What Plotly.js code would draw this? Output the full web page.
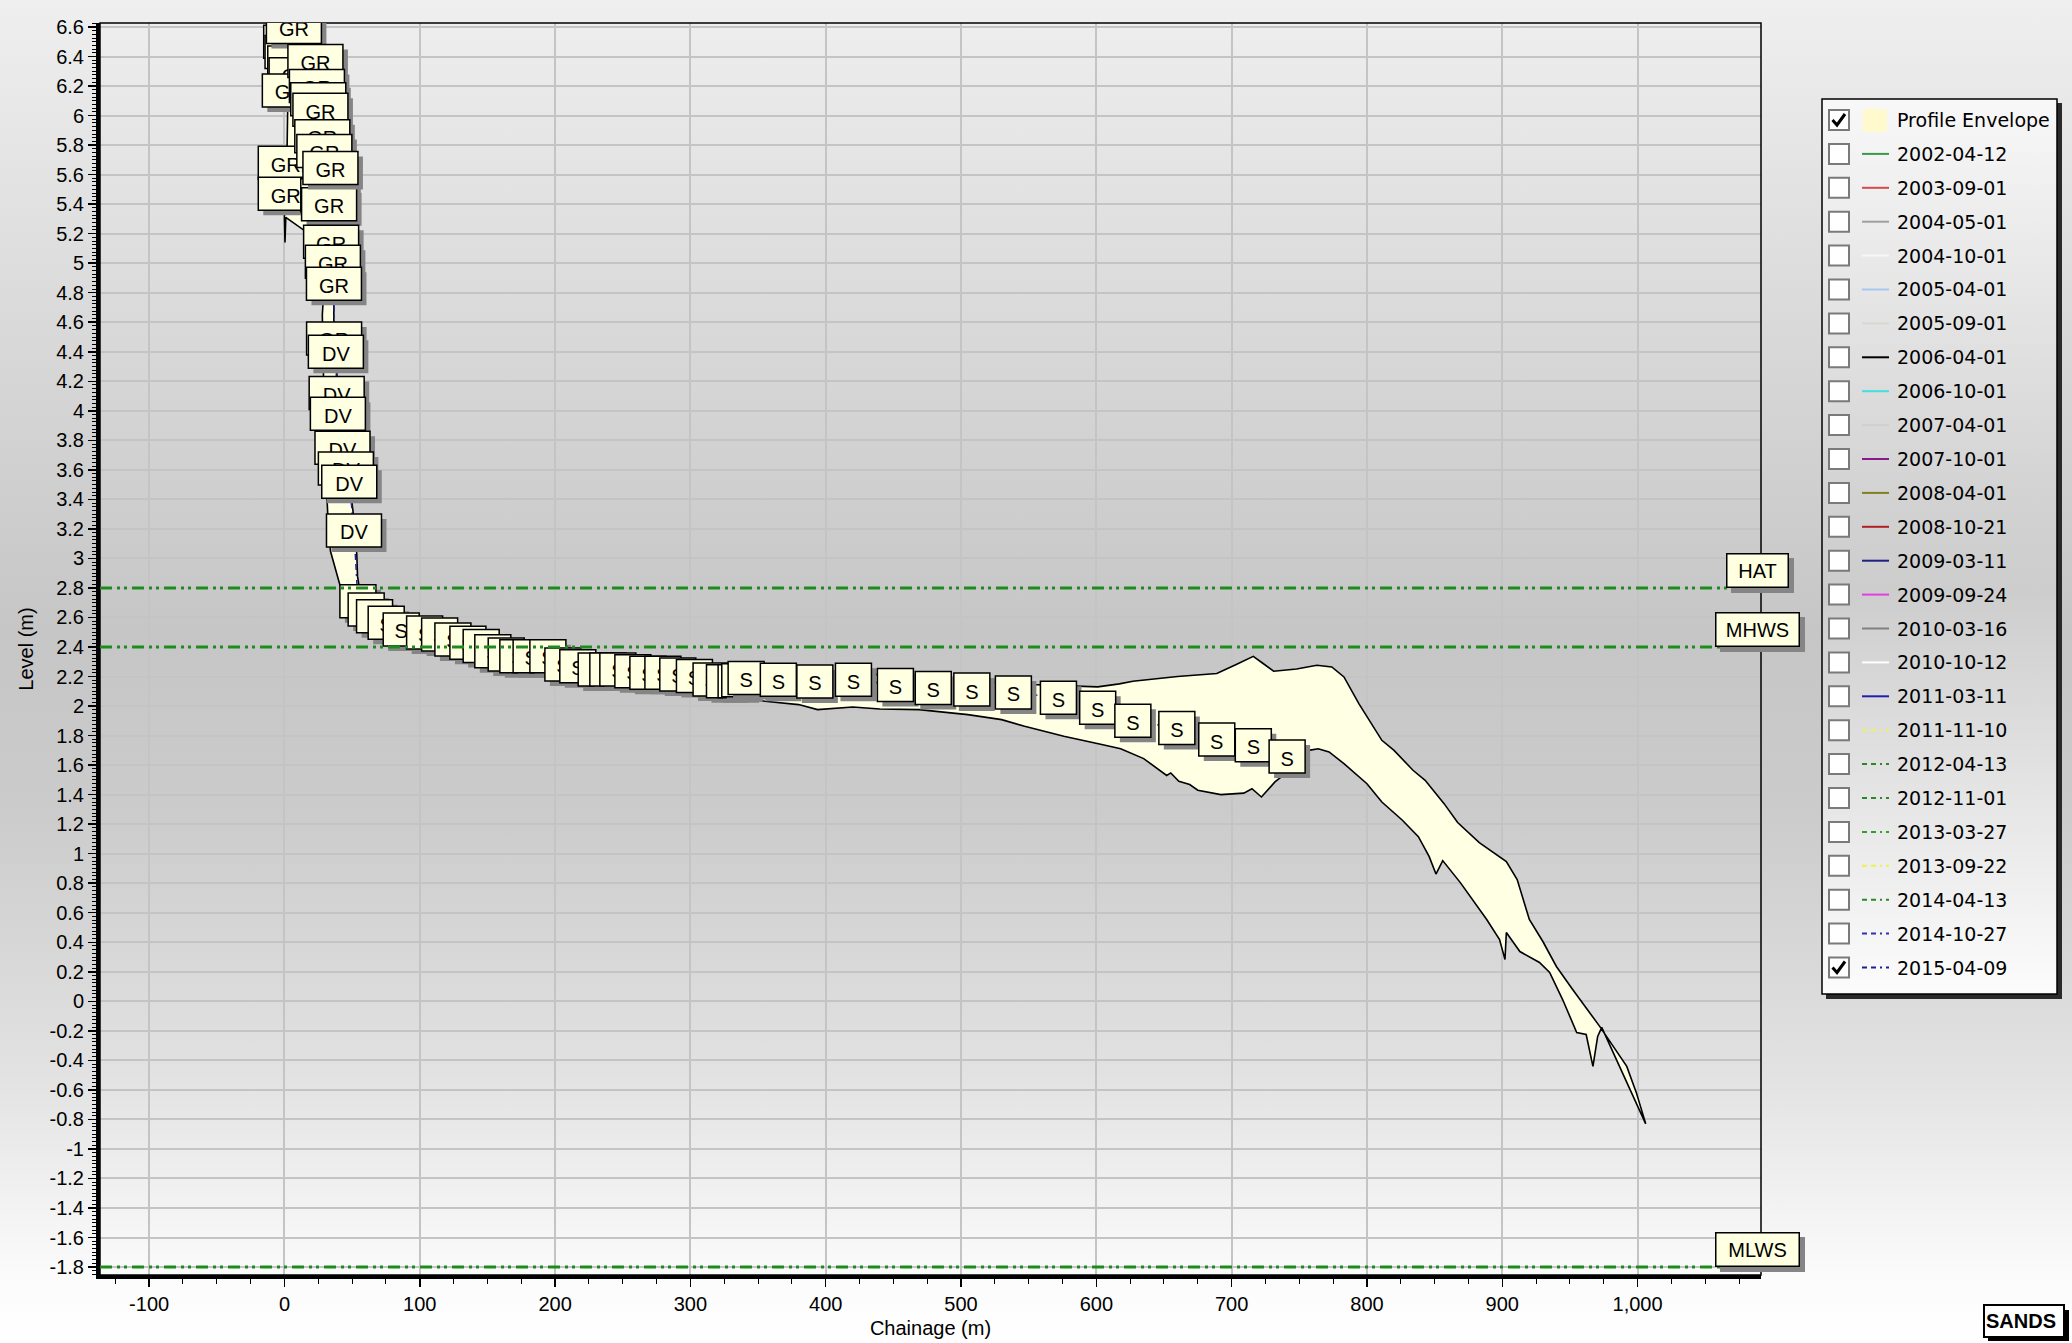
<!DOCTYPE html>
<html>
<head>
<meta charset="utf-8">
<script src="https://cdn.plot.ly/plotly-3.0.1.min.js"></script>
<style>
html,body{margin:0;padding:0;}
body{width:2072px;height:1343px;overflow:hidden;position:relative;
background:linear-gradient(to bottom,#efefef 0%,#d6d6d6 28%,#c6c6c6 47%,#cbcbcb 60%,#e2e2e2 80%,#fbfbfb 95%,#ffffff 100%);}
#legbg{position:absolute;left:1822px;top:99px;width:235px;height:895px;
background:linear-gradient(to bottom,#f8f8f8 0%,#d2d2d2 45%,#cdcdcd 55%,#fcfcfc 100%);}
#chart{position:absolute;left:0;top:0;width:2072px;height:1343px;}
</style>
</head>
<body>
<div id="legbg"></div>
<div id="chart"></div>
<script>
// ---------------- DATA ----------------
// 2015-04-09 survey points: chainage (m), level (m), feature code
const profileChainage = [5, 6, 8, 9, 4, 7, 22.9, 24, 25, 26.6, 1, 1, 28, 29.5, 32.4, 33, 34, 34.5, 35.8, 36.6, 36.7,
  38, 38.6, 39.5, 42.9, 45.4, 47.9, 51.4,
  54.3, 60.4, 66.6, 75.2, 86.3, 103.6, 114.7, 124.5, 135.6, 145.4, 154, 163.9, 172.5, 182.3, 194.7, 205.8, 216.8,
  230.4, 239, 246.4, 257.5, 268.6, 279.7, 290.7, 303, 315.3, 325.2, 333.8, 336.5, 341.2, 365, 392, 420.5, 451.5,
  479.5, 508, 538.7, 572, 601, 627, 659.5, 689, 716, 741];
const profileLevel = [6.50, 6.43, 6.36, 6.28, 6.17, 6.60, 6.37, 6.20, 6.11, 6.04, 5.68, 5.47, 5.86, 5.76, 5.46, 5.40, 5.645, 5.145, 5.01, 4.86, 4.49,
  4.40, 4.12, 3.98, 3.75, 3.61, 3.52, 3.19,
  2.710, 2.654, 2.609, 2.564, 2.519, 2.498, 2.485, 2.451, 2.428, 2.406, 2.372, 2.349, 2.338, 2.338, 2.338, 2.282, 2.270,
  2.248, 2.248, 2.248, 2.236, 2.225, 2.225, 2.214, 2.203, 2.180, 2.168, 2.168, 2.175, 2.19, 2.178, 2.167, 2.178, 2.143,
  2.123, 2.112, 2.092, 2.057, 1.988, 1.90, 1.852, 1.773, 1.735, 1.658];
const profileCode = ['GR','GR','GR','GR','GR','GR','GR','GR','GR','GR','GR','GR','GR','GR','GR','GR','GR','GR','GR','GR','GR',
  'DV','DV','DV','DV','DV','DV','DV',
  'S','S','S','S','S','S','S','S','S','S','S','S','S','S','S','S','S',
  'S','S','S','S','S','S','S','S','S','S','S','S','S','S','S','S','S',
  'S','S','S','S','S','S','S','S','S','S'];

// Profile envelope: upper (max) outline, left to right
const envUpperChainage = [2, 5, 10, 16, 22, 27, 30, 34, 35, 36.5, 36.5, 38, 40, 43, 48, 52, 53.5, 54, 56, 61, 67, 75, 86,
  104, 125, 145, 164, 182, 206, 230, 257, 280, 303, 325, 341, 365, 392, 420, 451, 480, 508, 539, 572, 601, 617, 627,
  660, 689, 703, 716, 723, 731, 748, 763, 774, 783, 794, 800, 811, 820, 834, 843, 857, 867, 883, 903, 911, 920, 930,
  940, 952, 972, 985, 992, 999, 1006];
const envUpperLevel = [6.45, 6.60, 6.62, 6.52, 6.38, 6.08, 5.82, 5.62, 5.25, 4.95, 4.62, 4.40, 4.00, 3.75, 3.52, 3.22, 3.02, 2.88, 2.76, 2.70, 2.66, 2.62, 2.58,
  2.55, 2.51, 2.46, 2.41, 2.39, 2.34, 2.30, 2.29, 2.28, 2.26, 2.23, 2.24, 2.23, 2.22, 2.23, 2.20, 2.18, 2.17, 2.15, 2.14, 2.13, 2.15, 2.168,
  2.20, 2.22, 2.28, 2.337, 2.29, 2.236, 2.251, 2.276, 2.265, 2.197, 2.016, 1.926, 1.768, 1.700, 1.565, 1.497, 1.339, 1.211, 1.075, 0.947, 0.825, 0.554, 0.405,
  0.236, 0.080, -0.170, -0.346, -0.441, -0.617, -0.83];
// Profile envelope: lower (min) outline, right to left
const envLowerChainage = [973.5, 970.5, 967, 962, 955, 944.6, 935, 927.5, 913, 903, 902, 898, 888.5, 869, 856, 851, 846, 838,
  826, 811, 800, 783, 772, 764, 757, 745, 732, 726, 722, 715, 709, 692, 675, 669, 661, 655, 652, 635, 618, 604, 576, 547,
  530, 505, 469, 440, 420, 394, 380, 355, 335, 315, 290, 268, 246, 217, 195, 172, 154, 135, 114, 104, 86, 75, 66, 60, 52,
  46, 41, 34, 32, 30, 29, 28, 29, 26, 18, 1, 0.4, 0, 1, 2, 2.5, 2];
const envLowerLevel = [-0.177, -0.238, -0.441, -0.225, -0.211, 0.012, 0.195, 0.263, 0.337, 0.466, 0.283, 0.418, 0.554, 0.804, 0.953, 0.862, 0.98, 1.115,
  1.228, 1.35, 1.474, 1.61, 1.689, 1.711, 1.70, 1.58, 1.486, 1.429, 1.384, 1.44, 1.41, 1.40, 1.43, 1.468, 1.49, 1.547, 1.53, 1.644, 1.711, 1.739, 1.795, 1.863,
  1.908, 1.942, 1.976, 1.98, 1.994, 1.976, 2.01, 2.032, 2.07, 2.08, 2.11, 2.12, 2.14, 2.17, 2.23, 2.24, 2.27, 2.33, 2.38, 2.40, 2.42, 2.46, 2.50, 2.55, 2.62,
  2.70, 2.82, 3.05, 3.3, 3.7, 4.2, 4.65, 4.8, 5.0, 5.2, 5.31, 5.14, 5.31, 5.6, 5.8, 6.1, 6.45];

// Tide levels
const tideNames = ['HAT', 'MHWS', 'MLWS'];
const tideLevels = [2.8, 2.4, -1.8];

// Legend entries
const legendNames = ['Profile Envelope', '2002-04-12', '2003-09-01', '2004-05-01', '2004-10-01', '2005-04-01', '2005-09-01',
  '2006-04-01', '2006-10-01', '2007-04-01', '2007-10-01', '2008-04-01', '2008-10-21', '2009-03-11', '2009-09-24',
  '2010-03-16', '2010-10-12', '2011-03-11', '2011-11-10', '2012-04-13', '2012-11-01', '2013-03-27', '2013-09-22',
  '2014-04-13', '2014-10-27', '2015-04-09'];
const legendColors = ['#fffacd', '#3a9a4a', '#d84848', '#a0a0a0', '#f6f6f6', '#a8c8f0', '#d8d8d0',
  '#000000', '#40e0e0', '#d0d0d0', '#8a1a8a', '#808020', '#b02020', '#202080', '#e040e0',
  '#808080', '#ffffff', '#2020b0', '#f0f060', '#2a8a2a', '#2a8a2a', '#30a030', '#f0f050',
  '#2a8a2a', '#3030b0', '#202090'];
const legendDashed = [false, false, false, false, false, false, false, false, false, false, false, false, false, false, false,
  false, false, false, true, true, true, true, true, true, true, true];
const legendChecked = [true, false, false, false, false, false, false, false, false, false, false, false, false, false, false,
  false, false, false, false, false, false, false, false, false, false, true];

// Tick labels
const xTickVals = [-100, 0, 100, 200, 300, 400, 500, 600, 700, 800, 900, 1000];
const xTickText = ['-100', '0', '100', '200', '300', '400', '500', '600', '700', '800', '900', '1,000'];
const yTickVals = [-1.8, -1.6, -1.4, -1.2, -1, -0.8, -0.6, -0.4, -0.2, 0, 0.2, 0.4, 0.6, 0.8, 1, 1.2, 1.4, 1.6, 1.8, 2,
  2.2, 2.4, 2.6, 2.8, 3, 3.2, 3.4, 3.6, 3.8, 4, 4.2, 4.4, 4.6, 4.8, 5, 5.2, 5.4, 5.6, 5.8, 6, 6.2, 6.4, 6.6];
const yTickText = ['-1.8', '-1.6', '-1.4', '-1.2', '-1', '-0.8', '-0.6', '-0.4', '-0.2', '0', '0.2', '0.4', '0.6', '0.8', '1', '1.2', '1.4', '1.6', '1.8', '2',
  '2.2', '2.4', '2.6', '2.8', '3', '3.2', '3.4', '3.6', '3.8', '4', '4.2', '4.4', '4.6', '4.8', '5', '5.2', '5.4', '5.6', '5.8', '6', '6.2', '6.4', '6.6'];

// ---------------- LAYOUT HELPERS ----------------
const W = 2072, H = 1343;
const ML = 100, MR = 311, MT = 23, MB = 68;
const plotW = W - ML - MR, plotH = H - MT - MB;
const XR = [-136.3, 1091.2], YR = [-1.854, 6.627];
const ux = (XR[1] - XR[0]) / plotW;   // data units per pixel (x)
const uy = (YR[1] - YR[0]) / plotH;   // data units per pixel (y)
const px = x => (x - ML) / plotW;
const py = y => (H - MB - y) / plotH;
const FONT = 'Liberation Sans, Arial, sans-serif';
const LFONT = 'DejaVu Sans, Verdana, sans-serif';
const CREAM = '#ffffe1';

const traces = [
  {
    x: envUpperChainage.concat(envLowerChainage),
    y: envUpperLevel.concat(envLowerLevel),
    mode: 'lines', fill: 'toself', fillcolor: '#ffffe4',
    line: {color: '#000000', width: 1.6}, hoverinfo: 'skip', showlegend: false
  },
  {
    x: profileChainage, y: profileLevel, mode: 'lines',
    line: {color: '#202090', width: 1.5, dash: '6px,4px,6px,4px,2px,4px'},
    hoverinfo: 'skip', showlegend: false
  }
];

const shapes = [];
// plot border
shapes.push({type: 'rect', xref: 'paper', yref: 'paper', x0: 0, x1: 1, y0: 0, y1: 1,
  line: {color: '#000', width: 1.5}, fillcolor: 'rgba(0,0,0,0)', layer: 'above'});

// survey point labels (shadow + box), box sized in pixels converted to axis units
profileChainage.forEach((c, i) => {
  const code = profileCode[i];
  const L = profileLevel[i];
  const hw = (code === 'S' ? 18 : 27.5) * ux, hh = 16.5 * uy, sx = 5 * ux, sy = 5 * uy;
  shapes.push({type: 'rect', xref: 'x', yref: 'y',
    x0: c - hw + sx, x1: c + hw + sx, y0: L - hh - sy, y1: L + hh - sy,
    fillcolor: '#858585', line: {width: 0}, layer: 'above'});
  shapes.push({type: 'rect', xref: 'x', yref: 'y',
    x0: c - hw, x1: c + hw, y0: L - hh, y1: L + hh,
    fillcolor: CREAM, line: {color: '#000', width: 1.5}, layer: 'above',
    label: {text: code, textposition: 'middle center', padding: 0, font: {family: FONT, size: 20, color: '#000'}}});
});

// tide lines
tideLevels.forEach(L => {
  shapes.push({type: 'line', xref: 'paper', yref: 'y', x0: 0, x1: 1, y0: L, y1: L,
    line: {color: '#1f8a1f', width: 3, dash: '12px,5px,3px,4px,3px,5px'}, layer: 'above'});
});

// legend frame + shadow
const LG = {l: 1822, t: 99, r: 2057, b: 994, row0: 120, step: 33.9};
shapes.push({type: 'rect', xref: 'paper', yref: 'paper', x0: px(LG.r), x1: px(LG.r + 5), y0: py(LG.b + 5), y1: py(LG.t + 4),
  fillcolor: '#2a2a2a', line: {width: 0}, layer: 'above'});
shapes.push({type: 'rect', xref: 'paper', yref: 'paper', x0: px(LG.l + 4), x1: px(LG.r + 5), y0: py(LG.b + 5), y1: py(LG.b),
  fillcolor: '#2a2a2a', line: {width: 0}, layer: 'above'});
shapes.push({type: 'rect', xref: 'paper', yref: 'paper', x0: px(LG.l), x1: px(LG.r), y0: py(LG.b), y1: py(LG.t),
  fillcolor: 'rgba(0,0,0,0)', line: {color: '#000', width: 1.5}, layer: 'above'});

const annotations = [];
legendNames.forEach((name, i) => {
  const yc = LG.row0 + i * LG.step;
  // checkbox
  shapes.push({type: 'rect', xref: 'paper', yref: 'paper', x0: px(1829), x1: px(1849), y0: py(yc + 10), y1: py(yc - 10),
    fillcolor: '#ffffff', line: {color: '#7a7a7a', width: 2}, layer: 'above'});
  if (legendChecked[i]) {
    shapes.push({type: 'path', xref: 'paper', yref: 'paper',
      path: 'M ' + px(1832.5) + ',' + py(yc) + ' L ' + px(1837) + ',' + py(yc + 5) + ' L ' + px(1845) + ',' + py(yc - 6),
      line: {color: '#000', width: 3}, layer: 'above'});
  }
  // symbol
  if (i === 0) {
    shapes.push({type: 'rect', xref: 'paper', yref: 'paper', x0: px(1863), x1: px(1887), y0: py(yc + 12), y1: py(yc - 11),
      fillcolor: legendColors[i], line: {width: 0}, layer: 'above'});
  } else {
    shapes.push({type: 'line', xref: 'paper', yref: 'paper', x0: px(1862), x1: px(1889), y0: py(yc), y1: py(yc),
      line: {color: legendColors[i], width: 2, dash: legendDashed[i] ? '5px,4px,5px,4px,2px,4px' : 'solid'}, layer: 'above'});
  }
  annotations.push({xref: 'paper', yref: 'paper', x: px(1895), y: py(yc), xanchor: 'left', yanchor: 'middle',
    text: name, showarrow: false, font: {family: LFONT, size: 19, color: '#000'}});
});

// tide labels (shadow then box)
tideNames.forEach((n, i) => {
  const wid = n === 'HAT' ? 52 : 74;
  annotations.push({xref: 'paper', yref: 'y', x: 1, y: tideLevels[i], xanchor: 'center', yanchor: 'bottom',
    xshift: 1, yshift: -5, text: ' ', showarrow: false, width: wid, height: 24, borderpad: 4, borderwidth: 1.5,
    bgcolor: '#858585', bordercolor: '#858585', font: {family: FONT, size: 20, color: 'rgba(0,0,0,0)'}});
  annotations.push({xref: 'paper', yref: 'y', x: 1, y: tideLevels[i], xanchor: 'center', yanchor: 'bottom',
    xshift: -4, text: n, showarrow: false, width: wid, height: 24, borderpad: 4, borderwidth: 1.5,
    bgcolor: CREAM, bordercolor: '#000', font: {family: FONT, size: 20, color: '#000'}});
});

// SANDS badge
shapes.push({type: 'rect', xref: 'paper', yref: 'paper', x0: px(1988), x1: px(2069), y0: py(1341), y1: py(1310),
  fillcolor: '#000', line: {width: 0}, layer: 'above'});
annotations.push({xref: 'paper', yref: 'paper', x: px(1983), y: py(1304), xanchor: 'left', yanchor: 'top',
  text: '<b>SANDS</b>', showarrow: false, width: 76, height: 28, align: 'left', borderpad: 1, borderwidth: 2,
  bgcolor: '#ffffff', bordercolor: '#000', font: {family: FONT, size: 20, color: '#000'}});

const layout = {
  width: W, height: H,
  margin: {l: ML, r: MR, t: MT, b: MB, pad: 0},
  paper_bgcolor: 'rgba(0,0,0,0)', plot_bgcolor: 'rgba(0,0,0,0)',
  showlegend: false,
  font: {family: FONT, size: 20, color: '#000'},
  xaxis: {
    range: XR, tickmode: 'array', tickvals: xTickVals, ticktext: xTickText,
    ticks: 'outside', ticklen: 8, tickwidth: 1.5, tickcolor: '#000',
    showline: true, linewidth: 4, linecolor: '#000', mirror: false,
    showgrid: true, gridcolor: '#c4c4c4', gridwidth: 2, zeroline: false,
    minor: {tickmode: 'linear', tick0: 0, dtick: 25, ticks: 'outside', ticklen: 5, tickcolor: '#000', tickwidth: 1, showgrid: false},
    tickfont: {family: FONT, size: 20, color: '#000'},
    title: {text: 'Chainage (m)', font: {family: FONT, size: 20, color: '#000'}, standoff: 8}
  },
  yaxis: {
    range: YR, tickmode: 'array', tickvals: yTickVals, ticktext: yTickText,
    ticks: 'outside', ticklen: 8, tickwidth: 1.5, tickcolor: '#000',
    showline: true, linewidth: 4, linecolor: '#000', mirror: false,
    showgrid: true, gridcolor: '#c4c4c4', gridwidth: 2, zeroline: false,
    minor: {tickmode: 'linear', tick0: 0, dtick: 0.025, ticks: 'outside', ticklen: 4, tickcolor: '#000', tickwidth: 1, showgrid: false},
    tickfont: {family: FONT, size: 20, color: '#000'},
    title: {text: 'Level (m)', font: {family: FONT, size: 20, color: '#000'}, standoff: 12}
  },
  shapes: shapes,
  annotations: annotations
};

Plotly.newPlot('chart', traces, layout, {displayModeBar: false, staticPlot: true});
</script>
</body>
</html>
